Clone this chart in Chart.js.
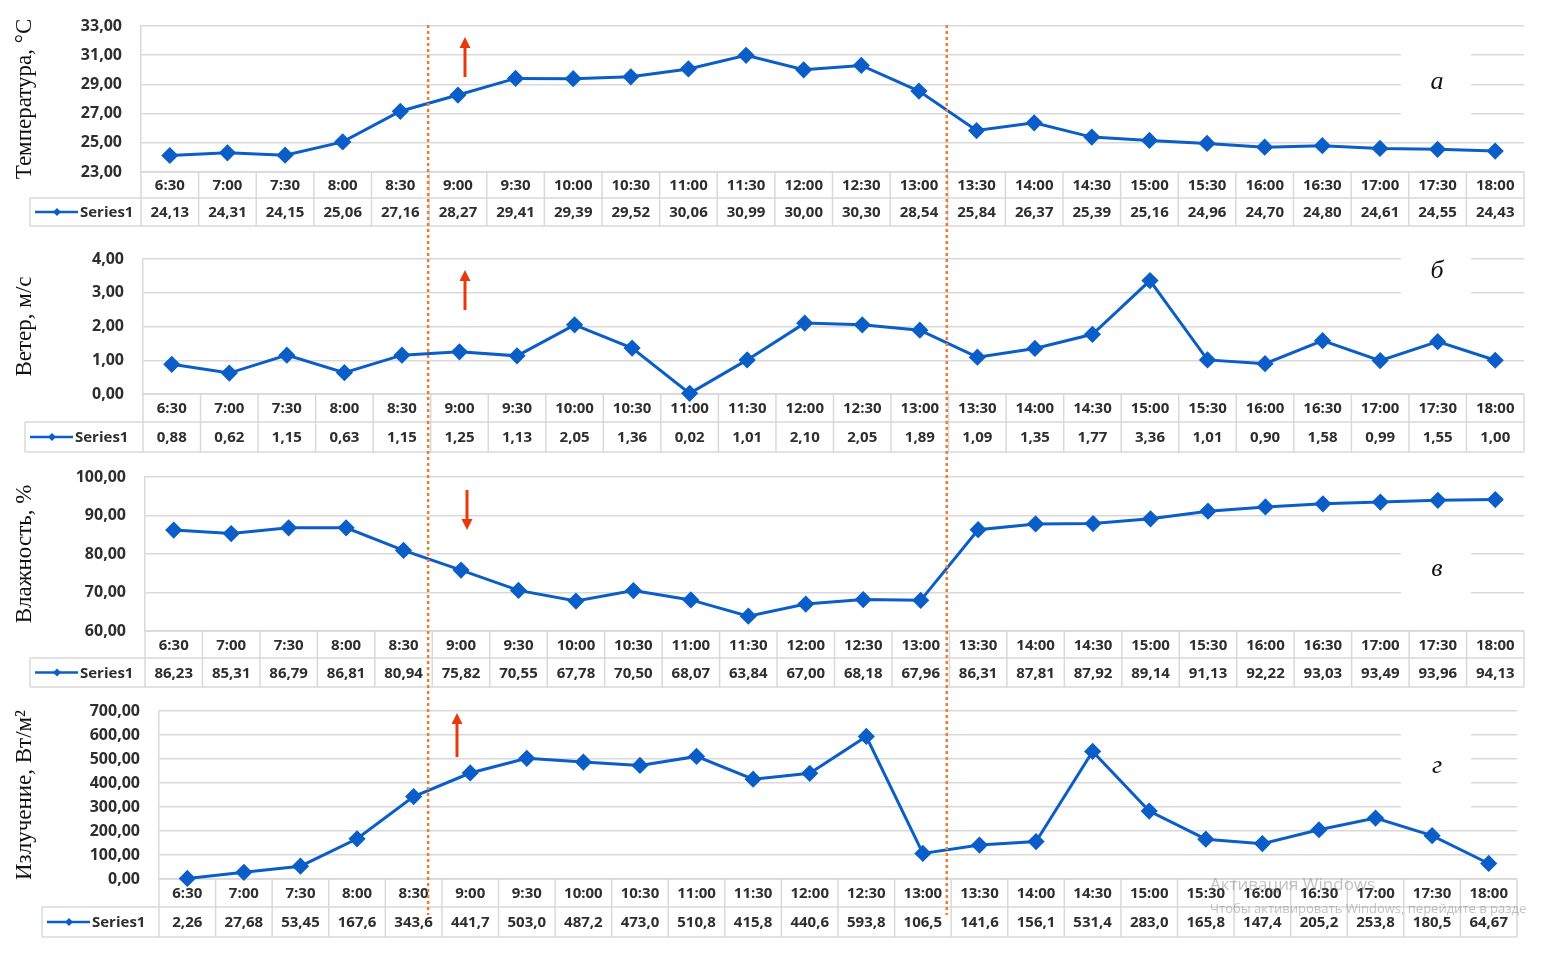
<!DOCTYPE html>
<html>
<head>
<meta charset="utf-8">
<script src="https://cdn.jsdelivr.net/npm/chart.js@4.4.1/dist/chart.umd.min.js"></script>
<style>
  html, body { margin: 0; padding: 0; background: #fff; }
  #page { position: relative; width: 1552px; height: 958px; overflow: hidden; }
  canvas { position: absolute; left: 0; }
  #notes { position: absolute; left: 0; top: 0; pointer-events: none; }
</style>
</head>
<body>
<div id="page">
  <canvas id="tempChart"  width="1552" height="232" style="top:0px"></canvas>
  <canvas id="windChart"  width="1552" height="220" style="top:236px"></canvas>
  <canvas id="humChart"   width="1552" height="232" style="top:460px"></canvas>
  <canvas id="radChart"   width="1552" height="250" style="top:694px"></canvas>
  <svg id="notes" width="1552" height="958"></svg>
</div>

<script>
// =========================
// DATA
// =========================
const times = ['6:30','7:00','7:30','8:00','8:30','9:00','9:30','10:00','10:30','11:00','11:30','12:00',
               '12:30','13:00','13:30','14:00','14:30','15:00','15:30','16:00','16:30','17:00','17:30','18:00'];

const temperature = [24.13,24.31,24.15,25.06,27.16,28.27,29.41,29.39,29.52,30.06,30.99,30.00,
                     30.30,28.54,25.84,26.37,25.39,25.16,24.96,24.70,24.80,24.61,24.55,24.43];

const wind = [0.88,0.62,1.15,0.63,1.15,1.25,1.13,2.05,1.36,0.02,1.01,2.10,
              2.05,1.89,1.09,1.35,1.77,3.36,1.01,0.90,1.58,0.99,1.55,1.00];

const humidity = [86.23,85.31,86.79,86.81,80.94,75.82,70.55,67.78,70.50,68.07,63.84,67.00,
                  68.18,67.96,86.31,87.81,87.92,89.14,91.13,92.22,93.03,93.49,93.96,94.13];

const radiation = [2.26,27.68,53.45,167.6,343.6,441.7,503.0,487.2,473.0,510.8,415.8,440.6,
                   593.8,106.5,141.6,156.1,531.4,283.0,165.8,147.4,205.2,253.8,180.5,64.67];

const seriesName = 'Series1';

// =========================
// STYLE
// =========================
const BLUE = '#0b5ec8';
const GRID = '#d9d9d9';
const TEXT = '#2e2e2e';
const SANS = "'Open Sans', sans-serif";
const SERIF = "'Liberation Serif', 'DejaVu Serif', serif";

const comma = s => s.replace('.', ',');
const fmt2 = v => comma(v.toFixed(2));
const fmtRad = v => comma(v >= 100 ? v.toFixed(1) : v.toFixed(2));

// =========================
// TABLE UNDER THE PLOT (Excel style data table)
// =========================
const dataTable = {
  id: 'dataTable',
  beforeDatasetsDraw(chart, args, opts) {
    const { ctx, chartArea: { left, right, bottom } } = chart;
    const x = chart.scales.x;
    const vals = chart.data.datasets[0].data;
    const n = chart.data.labels.length;
    const colW = (right - left) / n;
    const h1 = opts.headH, h2 = opts.rowH;
    const y1 = bottom + h1, y2 = bottom + h1 + h2;
    const lx = opts.legendLeft;

    ctx.save();
    ctx.strokeStyle = GRID;
    ctx.lineWidth = 1.5;
    ctx.beginPath();
    ctx.moveTo(left, bottom); ctx.lineTo(right, bottom);
    ctx.moveTo(lx, y1); ctx.lineTo(right, y1);
    ctx.moveTo(lx, y2); ctx.lineTo(right, y2);
    ctx.moveTo(lx, y1); ctx.lineTo(lx, y2);
    for (let i = 0; i <= n; i++) {
      const bx = x.getPixelForValue(Math.min(i, n - 1)) + (i === n ? colW / 2 : -colW / 2);
      ctx.moveTo(bx, bottom); ctx.lineTo(bx, y2);
    }
    ctx.stroke();

    ctx.fillStyle = TEXT;
    ctx.font = `700 15px ${SANS}`;
    ctx.textAlign = 'center';
    ctx.textBaseline = 'middle';
    chart.data.labels.forEach((lab, i) => {
      const cx = x.getPixelForValue(i);
      ctx.fillText(lab, cx, bottom + h1 / 2 + 1);
      ctx.fillText(opts.format(vals[i]), cx, y1 + h2 / 2 + 1);
    });

    // legend key in the first cell of the value row
    const my = y1 + h2 / 2;
    ctx.strokeStyle = BLUE;
    ctx.lineWidth = 2.5;
    ctx.beginPath();
    ctx.moveTo(lx + 5, my); ctx.lineTo(lx + 48, my);
    ctx.stroke();
    ctx.fillStyle = BLUE;
    ctx.beginPath();
    ctx.moveTo(lx + 27, my - 4); ctx.lineTo(lx + 31, my);
    ctx.lineTo(lx + 27, my + 4); ctx.lineTo(lx + 23, my);
    ctx.closePath(); ctx.fill();
    ctx.fillStyle = TEXT;
    ctx.textAlign = 'left';
    ctx.fillText(seriesName, lx + 50, my + 1);
    ctx.restore();
  }
};

// =========================
// ONE PANEL
// =========================
function panel(id, o) {
  const el = document.getElementById(id);
  return new Chart(el, {
    type: 'line',
    data: {
      labels: times,
      datasets: [{
        data: o.data,
        borderColor: BLUE,
        backgroundColor: BLUE,
        borderWidth: 3,
        pointStyle: 'rectRot',
        pointRadius: 6.5,
        pointHoverRadius: 6.5,
        tension: 0,
        clip: false
      }]
    },
    options: {
      responsive: false,
      animation: false,
      events: [],
      layout: { padding: { top: o.top, right: o.right, bottom: o.bottom, left: 0 } },
      plugins: {
        legend: { display: false },
        tooltip: { enabled: false },
        dataTable: { headH: o.headH, rowH: o.rowH, legendLeft: o.legendLeft, format: o.format }
      },
      scales: {
        x: { type: 'category', offset: true, display: false },
        y: {
          min: o.min, max: o.max,
          afterFit(scale) {
            scale.width = o.plotLeft;
            // tick padding is meant for the gap to the axis only, not above/below the plot
            scale.paddingTop = 10;
            scale.paddingBottom = 10;
          },
          ticks: {
            stepSize: o.step,
            padding: 19,
            color: TEXT,
            font: { family: SANS, size: o.tickSize, weight: '700' },
            callback: v => fmt2(v)
          },
          grid: { color: GRID, lineWidth: 1.5, drawTicks: false },
          border: { display: true, color: GRID, width: 1.5 },
          title: {
            display: true,
            text: o.title,
            color: '#111',
            font: { family: SERIF, size: 23 },
            padding: { top: 11, bottom: 0 }
          }
        }
      }
    },
    plugins: [dataTable]
  });
}

const tempChart = panel('tempChart', {
  data: temperature, title: 'Температура, °С', min: 23, max: 33, step: 2, format: fmt2,
  top: 26, bottom: 60, right: 28, plotLeft: 141, legendLeft: 30, headH: 26, rowH: 28, tickSize: 16
});
panel('windChart', {
  data: wind, title: 'Ветер, м/с', min: 0, max: 4, step: 1, format: fmt2,
  top: 23, bottom: 62, right: 28, plotLeft: 143, legendLeft: 25, headH: 28, rowH: 30, tickSize: 16
});
panel('humChart', {
  data: humidity, title: 'Влажность, %', min: 60, max: 100, step: 10, format: fmt2,
  top: 17, bottom: 61, right: 28, plotLeft: 145, legendLeft: 30, headH: 27, rowH: 29, tickSize: 16
});
panel('radChart', {
  data: radiation, title: 'Излучение, Вт/м²', min: 0, max: 700, step: 100, format: fmtRad,
  top: 17, bottom: 65, right: 35, plotLeft: 159, legendLeft: 42, headH: 28, rowH: 30, tickSize: 16
});

// =========================
// ANNOTATIONS: dotted period bounds, arrows, panel letters
// =========================
const svg = document.getElementById('notes');
const NS = 'http://www.w3.org/2000/svg';
function add(tag, attrs, text) {
  const e = document.createElementNS(NS, tag);
  for (const k in attrs) e.setAttribute(k, attrs[k]);
  if (text) e.textContent = text;
  svg.appendChild(e);
  return e;
}

// bounds between 8:30/9:00 and 13:00/13:30, taken from the top panel's x scale
const xs = tempChart.scales.x;
[4.5, 13.5].forEach(v => {
  const px = (xs.getPixelForValue(Math.floor(v)) + xs.getPixelForValue(Math.ceil(v))) / 2 - 1;
  add('line', { x1: px, y1: 25, x2: px, y2: 915, stroke: '#ed7d31', 'stroke-width': 2.5, 'stroke-dasharray': '3 3' });
});

function arrow(x, yTail, yTip) {
  const dir = yTip < yTail ? 1 : -1;
  const base = yTip + dir * 11;
  add('line', { x1: x, y1: yTail, x2: x, y2: base, stroke: '#e8380d', 'stroke-width': 3 });
  add('polygon', { points: `${x},${yTip} ${x - 5.5},${base} ${x + 5.5},${base}`, fill: '#e8380d' });
}
arrow(465, 77, 37);
arrow(465, 310, 270);
arrow(467, 490, 530);
arrow(457, 757, 713);

[['а', 1401, 50, 68, 83], ['б', 1401, 250, 66, 272], ['в', 1401, 545, 56, 570], ['г', 1401, 725, 90, 767]]
  .forEach(([t, bx, by, bh, ty]) => {
    add('rect', { x: bx, y: by, width: 70, height: bh, fill: '#fff' });
    add('text', { x: bx + 36, y: ty, 'font-family': SERIF, 'font-style': 'italic', 'font-size': 26,
                  'text-anchor': 'middle', 'dominant-baseline': 'middle', fill: '#111' }, t);
  });

// screen watermark visible on the source picture
add('text', { x: 1210, y: 890, 'font-family': SANS, 'font-size': 17, fill: 'rgba(120,120,120,0.45)' }, 'Активация Windows');
add('text', { x: 1210, y: 913, 'font-family': SANS, 'font-size': 13, fill: 'rgba(120,120,120,0.45)' },
    'Чтобы активировать Windows, перейдите в разде');
</script>
</body>
</html>
